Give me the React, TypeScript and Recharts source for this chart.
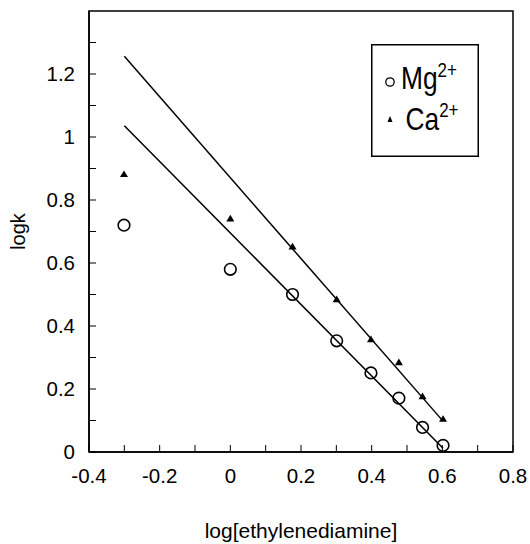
import React from "react";
import {
  ScatterChart,
  Scatter,
  XAxis,
  YAxis,
  ReferenceArea,
  Legend,
} from "recharts";

const logEn = [-0.301, 0, 0.176, 0.301, 0.398, 0.477, 0.544, 0.602];
const mgLogk = [0.72, 0.58, 0.5, 0.353, 0.251, 0.171, 0.078, 0.021];
const caLogk = [0.88, 0.739, 0.65, 0.483, 0.356, 0.283, 0.175, 0.103];

// fitted straight lines, read at their two ends
const mgFitX = [-0.3, 0.602];
const mgFitY = [1.036, 0.012];
const caFitX = [-0.3, 0.602];
const caFitY = [1.256, 0.098];

const xTicks = [-0.4, -0.3, -0.2, -0.1, 0, 0.1, 0.2, 0.3, 0.4, 0.5, 0.6, 0.7, 0.8];
const yTicks = [0, 0.1, 0.2, 0.3, 0.4, 0.5, 0.6, 0.7, 0.8, 0.9, 1, 1.1, 1.2, 1.3];

const FONT = '"Liberation Sans", Arial, Helvetica, sans-serif';

const mgData = logEn.map((x, i) => ({ x, y: mgLogk[i] }));
const caData = logEn.map((x, i) => ({ x, y: caLogk[i] }));
const mgFit = mgFitX.map((x, i) => ({ x, y: mgFitY[i] }));
const caFit = caFitX.map((x, i) => ({ x, y: caFitY[i] }));

const isMajor = (v: number) => Math.abs(Math.round(v * 10)) % 2 === 0;
const fmt = (v: number) => String(Number(v.toFixed(1)));

function XTick({ x, y, payload }: any) {
  const v = payload.value;
  return (
    <g>
      <line x1={x} x2={x} y1={y} y2={y - 7} stroke="#000" strokeWidth={1} />
      {isMajor(v) && (
        <text x={x} y={y + 31} textAnchor="middle" fontSize={20.5} fontFamily={FONT} fill="#000">
          {fmt(v)}
        </text>
      )}
    </g>
  );
}

function YTick({ x, y, payload }: any) {
  const v = payload.value;
  return (
    <g>
      <line x1={x} x2={x + 7} y1={y} y2={y} stroke="#000" strokeWidth={1} />
      {isMajor(v) && (
        <text x={x - 14} y={y} dy="0.36em" textAnchor="end" fontSize={20.5} fontFamily={FONT} fill="#000">
          {fmt(v)}
        </text>
      )}
    </g>
  );
}

function Circle({ cx, cy }: any) {
  return <circle cx={cx} cy={cy} r={5.8} fill="none" stroke="#000" strokeWidth={1.6} />;
}

function Triangle({ cx, cy }: any) {
  return (
    <path
      d={`M${cx},${cy - 4.4} L${cx + 4},${cy + 2.3} L${cx - 4},${cy + 2.3} Z`}
      fill="#000"
    />
  );
}

const NoDot = () => <g />;

function LegendBox() {
  return (
    <svg width={108} height={113} style={{ display: "block" }}>
      <rect x={0.75} y={0.75} width={106.5} height={111.5} fill="#fff" stroke="#000" strokeWidth={1.5} />
      <circle cx={19} cy={38} r={4.2} fill="none" stroke="#000" strokeWidth={1.3} />
      <text x={0} y={0} fontFamily={FONT} fill="#000" transform="translate(30,45) scale(0.85,1)">
        <tspan fontSize={31}>Mg</tspan>
        <tspan fontSize={20} dy={-12}>2+</tspan>
      </text>
      <path d="M19,72 L21.5,78 L16.5,78 Z" fill="#000" />
      <text x={0} y={0} fontFamily={FONT} fill="#000" transform="translate(34.5,85.5) scale(0.85,1)">
        <tspan fontSize={31}>Ca</tspan>
        <tspan fontSize={20} dy={-13}>2+</tspan>
      </text>
    </svg>
  );
}

export default function App() {
  return (
    <div style={{ position: "absolute", left: 0, top: 0, width: 530, height: 544, background: "#fff" }}>
      <ScatterChart width={530} height={544} margin={{ top: 11, right: 17, left: 0, bottom: 0 }}>
        <XAxis
          type="number"
          dataKey="x"
          domain={[-0.4, 0.8]}
          ticks={xTicks}
          interval={0}
          height={92}
          tickSize={0}
          tickMargin={0}
          tickLine={false}
          axisLine={{ stroke: "#000", strokeWidth: 1.5 }}
          tick={<XTick />}
          allowDataOverflow
          label={({ viewBox }: any) => (
            <text
              x={viewBox.x + viewBox.width / 2}
              y={538}
              textAnchor="middle"
              fontSize={21}
              fontFamily={FONT}
              fill="#000"
            >
              log[ethylenediamine]
            </text>
          )}
        />
        <YAxis
          type="number"
          dataKey="y"
          domain={[0, 1.4]}
          ticks={yTicks}
          interval={0}
          width={89}
          tickSize={0}
          tickMargin={0}
          tickLine={false}
          axisLine={{ stroke: "#000", strokeWidth: 1.5 }}
          tick={<YTick />}
          allowDataOverflow
          label={({ viewBox }: any) => {
            const cx = 18;
            const cy = viewBox.y + viewBox.height / 2;
            return (
              <text
                x={cx}
                y={cy}
                dy="0.36em"
                transform={`rotate(-90, ${cx}, ${cy})`}
                textAnchor="middle"
                fontSize={20}
                fontFamily={FONT}
                fill="#000"
              >
                logk
              </text>
            );
          }}
        />
        <ReferenceArea
          x1={-0.4}
          x2={0.8}
          y1={0}
          y2={1.4}
          fill="none"
          fillOpacity={0}
          stroke="#000"
          strokeWidth={1.5}
        />
        <Scatter
          name="MgFit"
          data={mgFit}
          line={{ stroke: "#000", strokeWidth: 1.5 }}
          shape={NoDot}
          legendType="none"
          isAnimationActive={false}
        />
        <Scatter
          name="CaFit"
          data={caFit}
          line={{ stroke: "#000", strokeWidth: 1.5 }}
          shape={NoDot}
          legendType="none"
          isAnimationActive={false}
        />
        <Scatter name="Mg2+" data={mgData} shape={Circle} isAnimationActive={false} />
        <Scatter name="Ca2+" data={caData} shape={Triangle} isAnimationActive={false} />
        <Legend
          layout="horizontal"
          verticalAlign="middle"
          align="center"
          content={() => <LegendBox />}
          wrapperStyle={{ left: 371, top: 44, width: 108, height: 113 }}
        />
      </ScatterChart>
    </div>
  );
}
